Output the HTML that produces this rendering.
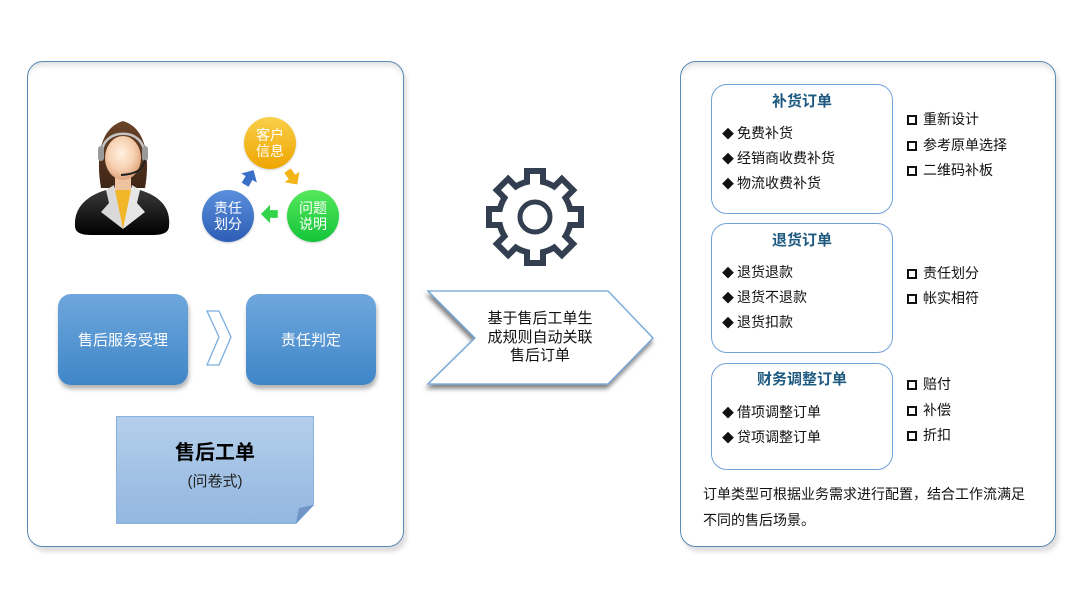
<!DOCTYPE html>
<html><head><meta charset="utf-8">
<style>
*{margin:0;padding:0;box-sizing:border-box}
body{width:1080px;height:608px;background:#fff;position:relative;overflow:hidden;font-family:"Liberation Sans","Noto Sans CJK SC",sans-serif;color:#111}
.panel{position:absolute;border:1.5px solid #5b89b8;border-radius:16px;background:#fff;box-shadow:inset 0 6px 6px -3px rgba(0,0,0,0.13),3px 5px 4px rgba(0,0,0,0.13)}
.abs{position:absolute}
.bbox{position:absolute;border-radius:13px;background:linear-gradient(#6fa7dd,#3f86c8);box-shadow:1px 4px 4px rgba(0,0,0,0.3);color:#fff;font-size:15px;display:flex;align-items:center;justify-content:center}
.obox{position:absolute;left:711px;width:182px;border:1.3px solid #6fa3d8;border-radius:16px;background:#fff}
.ttl{position:absolute;width:100%;text-align:center;font-weight:bold;font-size:15px;color:#1e5a80;line-height:18px}
.it{position:absolute;left:10px;font-size:14px;line-height:18px;white-space:nowrap}
.it span{display:inline-block;width:15px;font-size:12px}
.ri{position:absolute;left:907px;font-size:14px;line-height:18px;white-space:nowrap}
.ri i{display:inline-block;width:10px;height:10px;border:2px solid #111;margin-right:6px;vertical-align:-1px}
</style></head><body>

<div class="panel" style="left:27px;top:61px;width:377px;height:486px"></div>
<div class="panel" style="left:680px;top:61px;width:376px;height:486px"></div>

<!-- person + cycle + chevron -->
<svg class="abs" style="left:0;top:0" width="420" height="400" viewBox="0 0 420 400">
<defs>
<radialGradient id="face" cx="0.45" cy="0.4" r="0.6"><stop offset="0" stop-color="#fff1e2"/><stop offset="0.6" stop-color="#f6d0b0"/><stop offset="1" stop-color="#e0a47c"/></radialGradient>
<linearGradient id="hair" x1="0" y1="0" x2="0" y2="1"><stop offset="0" stop-color="#6b4428"/><stop offset="1" stop-color="#3e2616"/></linearGradient>
<linearGradient id="body" x1="0" y1="0" x2="0" y2="1"><stop offset="0" stop-color="#3a3a3a"/><stop offset="1" stop-color="#000"/></linearGradient>
<linearGradient id="gy" x1="0" y1="0" x2="0" y2="1"><stop offset="0" stop-color="#f9cf4a"/><stop offset="1" stop-color="#eea500"/></linearGradient>
<linearGradient id="gg" x1="0" y1="0" x2="0" y2="1"><stop offset="0" stop-color="#55e85a"/><stop offset="1" stop-color="#14c43a"/></linearGradient>
<linearGradient id="gb" x1="0" y1="0" x2="0" y2="1"><stop offset="0" stop-color="#5a8fdc"/><stop offset="1" stop-color="#2d5db5"/></linearGradient>
<filter id="cs" x="-20%" y="-20%" width="140%" height="140%"><feDropShadow dx="0" dy="1" stdDeviation="1" flood-opacity="0.2"/></filter>
</defs>
<path d="M101 188 C96 160 99 128 123 121 C147 128 150 160 145 188 Z" fill="url(#hair)"/>
<rect x="115" y="175" width="16" height="18" fill="#eec3a0"/>
<path d="M75 226 C74 208 86 196 106 190 L140 190 C160 196 171 208 169 226 C169 233 162 235 152 235 L92 235 C82 235 75 233 75 226 Z" fill="url(#body)"/>
<polygon points="113,190 133,190 123,229" fill="#f2b629"/>
<polygon points="106,190 114,185 123,229 101,212 109,203" fill="#d9d9d9"/>
<polygon points="140,190 132,185 123,229 145,212 137,203" fill="#e6e6e6"/>
<ellipse cx="123" cy="158" rx="18" ry="22" fill="url(#face)"/>
<path d="M102 154 C101 127 145 127 144 154" stroke="#c4c4c4" stroke-width="2.5" fill="none"/>
<rect x="98" y="146" width="6" height="15" rx="3" fill="#9a9a9a"/>
<rect x="142" y="146" width="6" height="15" rx="3" fill="#9a9a9a"/>
<path d="M145 160 C143 170 136 174 121 175" stroke="#222" stroke-width="2" fill="none"/>

<g filter="url(#cs)">
<circle cx="270" cy="143" r="26" fill="url(#gy)"/>
<circle cx="313" cy="216" r="26" fill="url(#gg)"/>
<circle cx="228" cy="216" r="26" fill="url(#gb)"/>
</g>
<g font-size="14" fill="#fff" text-anchor="middle" font-family="Liberation Sans,Noto Sans CJK SC,sans-serif">
<text x="270" y="140">客户</text><text x="270" y="156">信息</text>
<text x="313" y="213">问题</text><text x="313" y="229">说明</text>
<text x="228" y="213">责任</text><text x="228" y="229">划分</text>
</g>
<polygon points="-6,-3 0,-3 0,-7 7,0 0,7 0,3 -6,3" fill="#f3b418" transform="translate(292,177) rotate(55) scale(1.3)"/>
<polygon points="-6,-3 0,-3 0,-7 7,0 0,7 0,3 -6,3" fill="#33d44a" transform="translate(270,214) rotate(180) scale(1.3)"/>
<polygon points="-6,-3 0,-3 0,-7 7,0 0,7 0,3 -6,3" fill="#3a70c8" transform="translate(249,178) rotate(-60) scale(1.3)"/>

<polygon points="207,311 219,311 231,337 219,365 207,365 219,337" fill="#fff" stroke="#7aaee0" stroke-width="1.3"/>
</svg>

<div class="bbox" style="left:58px;top:294px;width:130px;height:91px">售后服务受理</div>
<div class="bbox" style="left:246px;top:294px;width:130px;height:91px">责任判定</div>

<!-- note -->
<svg class="abs" style="left:110px;top:410px" width="210" height="120" viewBox="110 410 210 120">
<defs><linearGradient id="nt" x1="0" y1="0" x2="0" y2="1"><stop offset="0" stop-color="#b4cfeb"/><stop offset="1" stop-color="#93b7e0"/></linearGradient></defs>
<polygon points="116.5,416.5 313.5,416.5 313.5,505 296,523.5 116.5,523.5" fill="url(#nt)" stroke="#8ab2e0" stroke-width="1"/>
<polygon points="313.5,505 296,523.5 299,508" fill="#6f96c4"/>
</svg>
<div class="abs" style="left:116px;top:440px;width:198px;text-align:center;font-weight:bold;font-size:20px;line-height:26px;color:#000">售后工单</div>
<div class="abs" style="left:116px;top:472px;width:198px;text-align:center;font-size:15px;line-height:20px;color:#222">(问卷式)</div>

<!-- gear -->
<svg class="abs" style="left:480px;top:162px" width="110" height="110" viewBox="-55 -55 110 110">
<g fill="#333f50">
<circle r="39"/>
<g id="dt"><rect x="-11" y="-49" width="22" height="20"/></g>
<use href="#dt" transform="rotate(45)"/><use href="#dt" transform="rotate(90)"/><use href="#dt" transform="rotate(135)"/>
<use href="#dt" transform="rotate(180)"/><use href="#dt" transform="rotate(225)"/><use href="#dt" transform="rotate(270)"/><use href="#dt" transform="rotate(315)"/>
</g>
<g fill="#fff">
<circle r="33"/>
<g id="wt"><rect x="-5" y="-43" width="10" height="20"/></g>
<use href="#wt" transform="rotate(45)"/><use href="#wt" transform="rotate(90)"/><use href="#wt" transform="rotate(135)"/>
<use href="#wt" transform="rotate(180)"/><use href="#wt" transform="rotate(225)"/><use href="#wt" transform="rotate(270)"/><use href="#wt" transform="rotate(315)"/>
</g>
<circle r="15" fill="none" stroke="#333f50" stroke-width="5"/>
</svg>

<!-- big arrow -->
<svg class="abs" style="left:0;top:0" width="680" height="420" viewBox="0 0 680 420">
<defs><filter id="as" x="-10%" y="-20%" width="120%" height="150%"><feDropShadow dx="-1" dy="4" stdDeviation="2.5" flood-color="#000" flood-opacity="0.5"/></filter></defs>
<polygon points="428,291 608,291 653,338 608,384 428,384 475,338" fill="#fff" stroke="#6fa3d8" stroke-width="1.3" filter="url(#as)"/>
</svg>
<div class="abs" style="left:470px;top:310px;width:140px;text-align:center;font-size:15px;line-height:18.5px;color:#111">基于售后工单生<br>成规则自动关联<br>售后订单</div>

<!-- right panel content -->
<div class="obox" style="top:84px;height:130px">
  <div class="ttl" style="top:8px">补货订单</div>
  <div class="it" style="top:39px"><span>◆</span>免费补货</div>
  <div class="it" style="top:64px"><span>◆</span>经销商收费补货</div>
  <div class="it" style="top:89px"><span>◆</span>物流收费补货</div>
</div>
<div class="ri" style="top:110px"><i></i>重新设计</div>
<div class="ri" style="top:136px"><i></i>参考原单选择</div>
<div class="ri" style="top:161px"><i></i>二维码补板</div>

<div class="obox" style="top:223px;height:130px">
  <div class="ttl" style="top:8px">退货订单</div>
  <div class="it" style="top:39px"><span>◆</span>退货退款</div>
  <div class="it" style="top:64px"><span>◆</span>退货不退款</div>
  <div class="it" style="top:89px"><span>◆</span>退货扣款</div>
</div>
<div class="ri" style="top:264px"><i></i>责任划分</div>
<div class="ri" style="top:289px"><i></i>帐实相符</div>

<div class="obox" style="top:363px;height:107px">
  <div class="ttl" style="top:7px">财务调整订单</div>
  <div class="it" style="top:39px"><span>◆</span>借项调整订单</div>
  <div class="it" style="top:64px"><span>◆</span>贷项调整订单</div>
</div>
<div class="ri" style="top:375px"><i></i>赔付</div>
<div class="ri" style="top:401px"><i></i>补偿</div>
<div class="ri" style="top:426px"><i></i>折扣</div>

<div class="abs" style="left:703px;top:481px;width:340px;font-size:14px;line-height:26px;color:#111">订单类型可根据业务需求进行配置，结合工作流满足<br>不同的售后场景。</div>

</body></html>
